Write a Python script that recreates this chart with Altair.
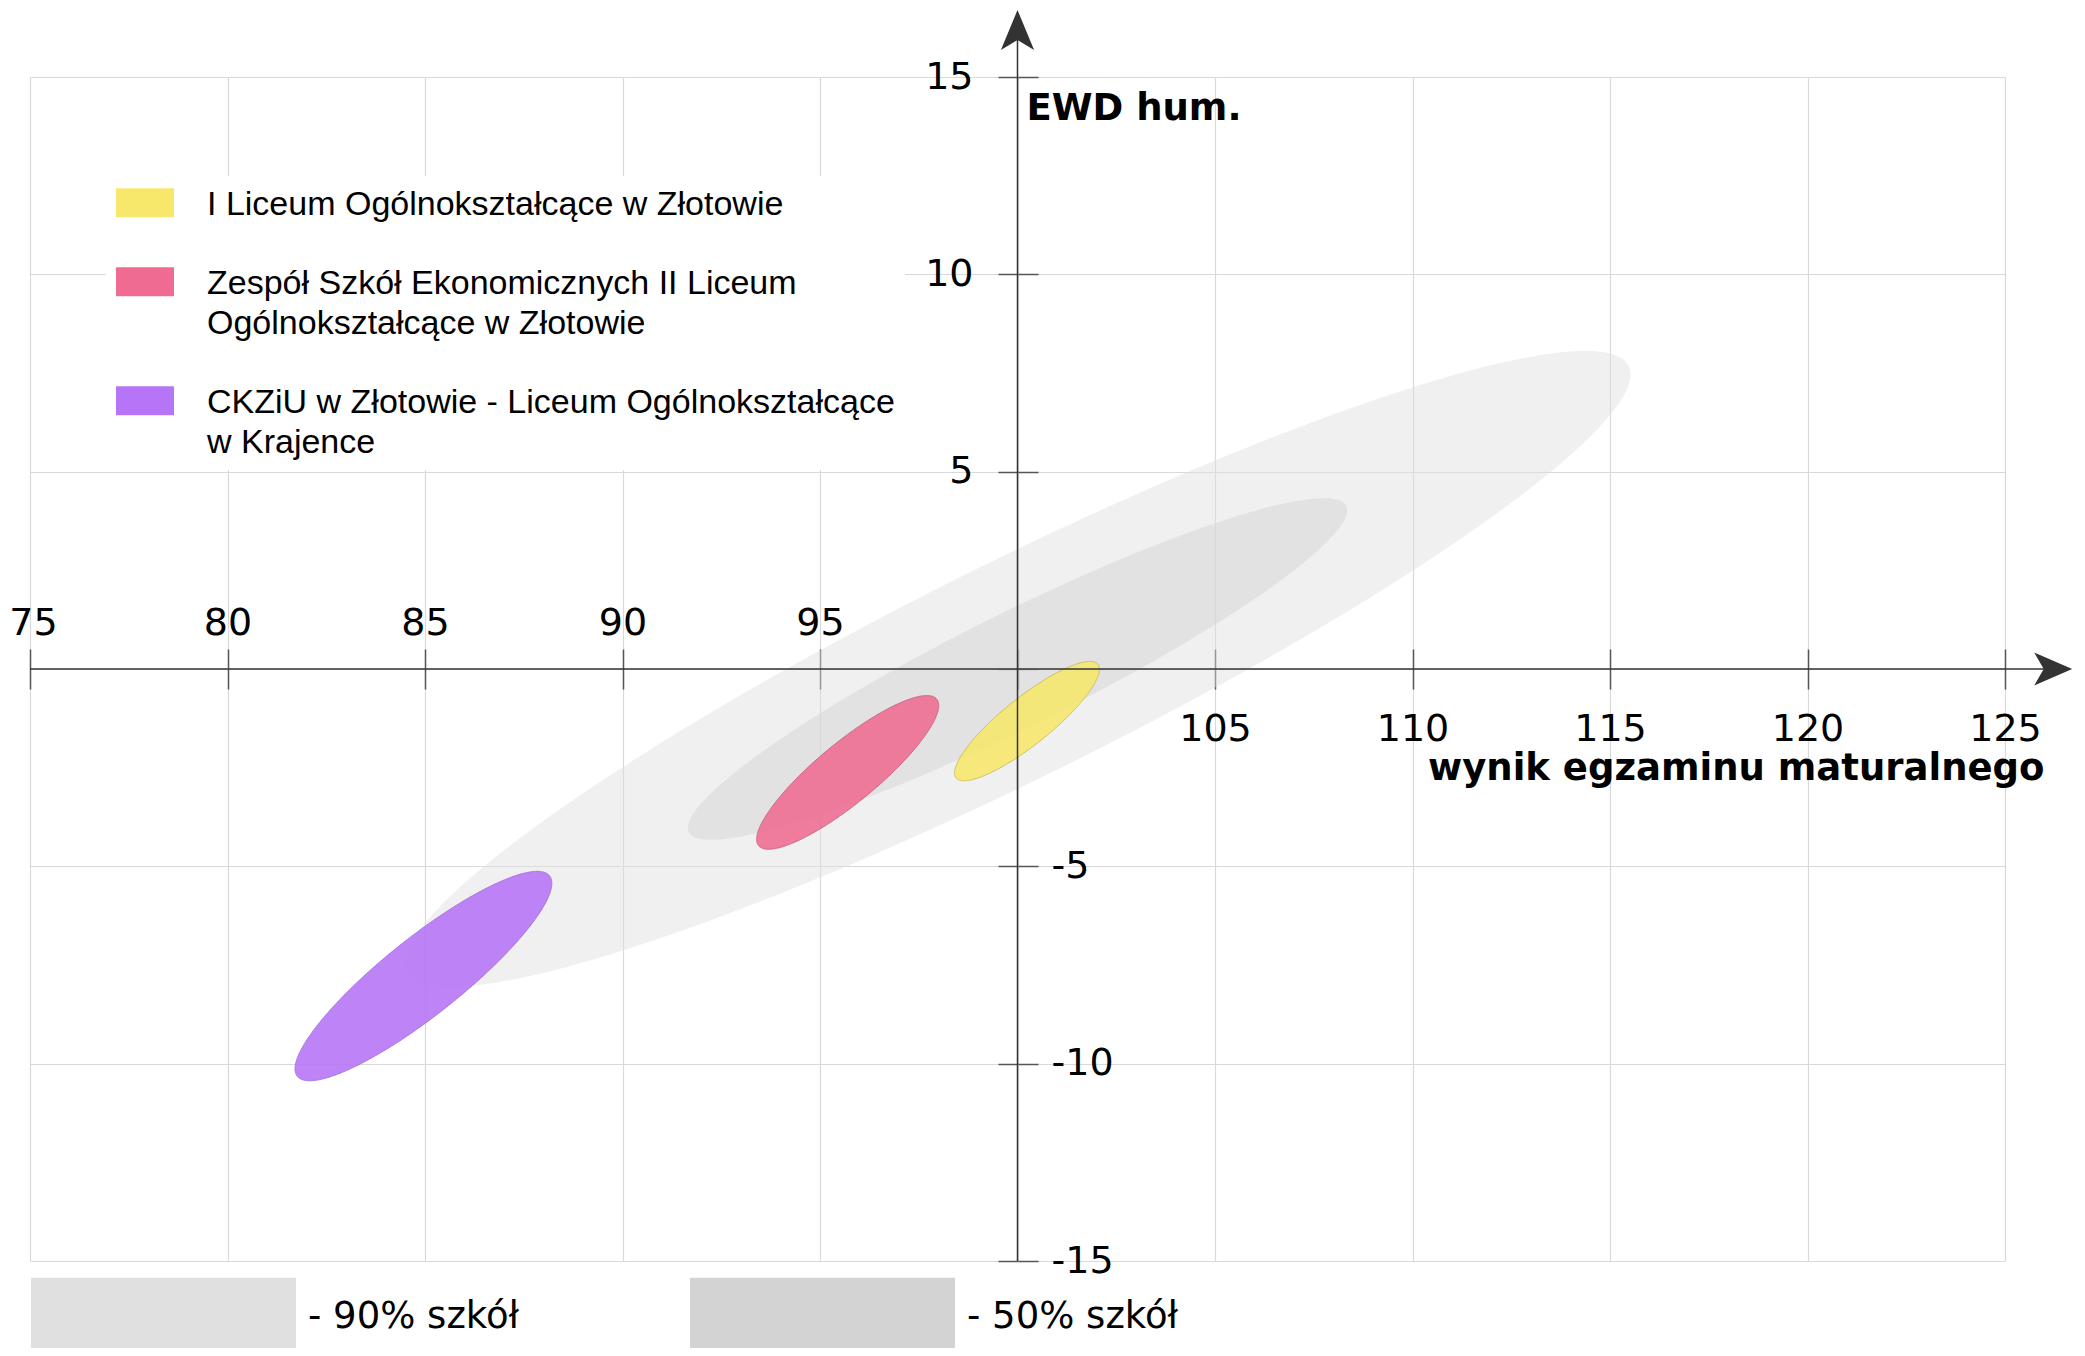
import numpy as np
import pandas as pd
import altair as alt

# ---- data ----
x_ticks = [75, 80, 85, 90, 95, 100, 105, 110, 115, 120, 125]
y_ticks = [-15, -10, -5, 0, 5, 10, 15]

school_names = [
    "I Liceum Ogólnokształcące w Złotowie",
    "Zespół Szkół Ekonomicznych II Liceum\nOgólnokształcące w Złotowie",
    "CKZiU w Złotowie - Liceum Ogólnokształcące\nw Krajence",
]
school_cx = [100.24, 95.70, 84.96]      # mean exam result
school_cy = [-1.32, -2.62, -7.78]       # mean EWD
school_a = [2.30, 2.92, 4.08]           # semi-major axis
school_b = [0.60, 0.76, 0.98]           # semi-minor axis
school_angle = [38.7, 39.5, 38.5]       # degrees
school_fill = ["#f7e86c", "#ef6b92", "#b674f7"]
school_stroke = ["#c9b94a", "#c9577a", "#9d62e0"]

band_names = ["- 90% szkół", "- 50% szkół"]
band_cx = [100.0, 100.0]
band_cy = [0.0, 0.0]
band_a = [17.27, 9.29]
band_b = [2.73, 1.44]
band_angle = [26.4, 26.4]
band_fill = ["#e0e0e0", "#d3d3d3"]

axis_x_line = [75, 126.2]
axis_y_line = [-15, 16.5]
arrow_up_pos = [100, 16.19]
arrow_right_pos = [126.22, 0]


def outline(name, cx, cy, a, b, ang, n=241):
    t = np.radians(ang)
    c, s = np.cos(t), np.sin(t)
    hw = np.sqrt((a * c) ** 2 + (b * s) ** 2)
    u = np.linspace(np.pi, 0, n)
    xp = hw * np.cos(u)
    A = s * s / a**2 + c * c / b**2
    B = 2 * xp * c * s * (1 / a**2 - 1 / b**2)
    C = xp**2 * (c * c / a**2 + s * s / b**2) - 1
    disc = np.clip(B * B - 4 * A * C, 0, None)
    lo = (-B - np.sqrt(disc)) / (2 * A)
    hi = (-B + np.sqrt(disc)) / (2 * A)
    return pd.DataFrame({"name": name, "x": cx + xp, "ylo": cy + lo, "yhi": cy + hi})


school_df = pd.concat(
    [outline(*p) for p in zip(school_names, school_cx, school_cy, school_a, school_b, school_angle)],
    ignore_index=True,
)
band_df = pd.concat(
    [outline(*p) for p in zip(band_names, band_cx, band_cy, band_a, band_b, band_angle)],
    ignore_index=True,
)

x_scale = alt.Scale(domain=[75, 125], nice=False, zero=False)
y_scale = alt.Scale(domain=[-15, 15], nice=False, zero=False)

LABEL = dict(
    labelFont="DejaVu Sans", labelFontSize=38, labelColor="#000000",
    tickColor="#555555", tickWidth=1.5, tickSize=20,
    domain=False, grid=False, labelFlush=False, labelOverlap=False,
)
TITLE = dict(
    titleFont="DejaVu Sans", titleFontSize=37, titleFontWeight="bold",
    titleColor="#000000", titleAngle=0, titleBaseline="alphabetic",
)

grid_x = alt.Axis(orient="bottom", values=x_ticks, grid=True, gridColor="#d9d9d9", gridWidth=1.2,
                  labels=False, ticks=False, domain=False, title="")
grid_y = alt.Axis(orient="left", values=y_ticks, grid=True, gridColor="#d9d9d9", gridWidth=1.2,
                  labels=False, ticks=False, domain=False, title="")

top_x = alt.Axis(orient="top", offset=-592, values=x_ticks,
                 labelExpr="datum.value < 100 ? datum.label : ''", labelPadding=7,
                 labelOffset={"condition": {"test": "datum.value == 75", "value": 3}, "value": 0},
                 title="", **LABEL)
bottom_x = alt.Axis(orient="bottom", offset=-592, values=x_ticks,
                    labelExpr="datum.value > 100 ? datum.label : ''", labelPadding=21,
                    title="wynik egzaminu maturalnego", titleX=2014, titleY=110, titleAlign="right",
                    **LABEL, **TITLE)
left_y = alt.Axis(orient="left", offset=-988, values=y_ticks,
                  labelExpr="datum.value > 0 ? datum.label : ''", labelPadding=25,
                  title="EWD hum.", titleX=8, titleY=42, titleAlign="left", **LABEL, **TITLE)
right_y = alt.Axis(orient="right", offset=-987, values=y_ticks,
                   labelExpr="datum.value < 0 ? '-' + abs(datum.value) : ''", labelPadding=13,
                   title="", **LABEL)

school_legend = alt.Legend(
    title=None, orient="none", legendX=76, legendY=99, padding=10, fillColor="#ffffff",
    direction="vertical", symbolType="M-1,-0.92H1V0.08H-1Z", symbolSize=3364,
    symbolStrokeWidth=0, symbolOpacity=1, labelFont="Liberation Sans", labelFontSize=34,
    labelColor="#000000", labelBaseline="alphabetic", labelOffset=33, labelLimit=1000,
    rowPadding=43, labelExpr="split(datum.label, '\\n')",
)
band_legend = alt.Legend(
    title=None, orient="none", legendX=1, legendY=1107.5, padding=0, direction="horizontal",
    columns=2, symbolType="M-1,-0.3H1V0.3H-1Z", symbolSize=70225, symbolStrokeWidth=0,
    symbolOpacity=1, labelFont="DejaVu Sans", labelFontSize=37, labelColor="#000000",
    labelOffset=12, columnPadding=170, labelLimit=500,
)

bands = alt.Chart(band_df).mark_area(opacity=0.48).encode(
    x=alt.X("x:Q", scale=x_scale, axis=grid_x),
    y=alt.Y("ylo:Q", scale=y_scale, axis=grid_y, stack=False),
    y2="yhi:Q",
    color=alt.Color("name:N", scale=alt.Scale(domain=band_names, range=band_fill), legend=band_legend),
)

schools = alt.Chart(school_df).mark_area(opacity=0.88, strokeWidth=1).encode(
    x=alt.X("x:Q", scale=x_scale, axis=top_x),
    y=alt.Y("ylo:Q", scale=y_scale, axis=left_y, stack=False),
    y2="yhi:Q",
    fill=alt.Fill("name:N", scale=alt.Scale(domain=school_names, range=school_fill), legend=school_legend),
    stroke=alt.Stroke("name:N", scale=alt.Scale(domain=school_names, range=school_stroke), legend=None),
)

xline = alt.Chart(pd.DataFrame({"x1": [axis_x_line[0]], "x2": [axis_x_line[1]], "y": [0]})).mark_rule(
    color="#333333", strokeWidth=1.5
).encode(
    x=alt.X("x1:Q", scale=x_scale, axis=bottom_x),
    x2="x2:Q",
    y=alt.Y("y:Q", scale=y_scale, axis=right_y),
)

yline = alt.Chart(pd.DataFrame({"x": [100], "y1": [axis_y_line[0]], "y2": [axis_y_line[1]]})).mark_rule(
    color="#333333", strokeWidth=1.5
).encode(
    x=alt.X("x:Q", scale=x_scale, axis=None),
    y=alt.Y("y1:Q", scale=y_scale, axis=None),
    y2="y2:Q",
)

arrow_up = alt.Chart(pd.DataFrame({"x": [arrow_up_pos[0]], "y": [arrow_up_pos[1]]})).mark_point(
    shape="M0,-1L0.83,1L0,0.5L-0.83,1Z", size=1600, filled=True, opacity=1, color="#333333", strokeWidth=0
).encode(
    x=alt.X("x:Q", scale=x_scale, axis=None),
    y=alt.Y("y:Q", scale=y_scale, axis=None),
)

arrow_right = alt.Chart(pd.DataFrame({"x": [arrow_right_pos[0]], "y": [arrow_right_pos[1]]})).mark_point(
    shape="M1,0L-1,0.87L-0.5,0L-1,-0.87Z", size=1444, filled=True, opacity=1, color="#333333", strokeWidth=0
).encode(
    x=alt.X("x:Q", scale=x_scale, axis=None),
    y=alt.Y("y:Q", scale=y_scale, axis=None),
)

chart = (
    alt.layer(bands, schools, xline, yline, arrow_up, arrow_right)
    .resolve_axis(x="independent", y="independent")
    .properties(
        width=1975, height=1184,
        autosize=alt.AutoSizeParams(type="none"),
        padding={"left": 22, "top": 69, "right": 72, "bottom": 87},
        background="#ffffff",
    )
    .configure(style={"guide-label": {"lineHeight": 40}})
    .configure_view(strokeWidth=0)
)

chart.save("out.html", embed_options={"renderer": "svg", "actions": False})
